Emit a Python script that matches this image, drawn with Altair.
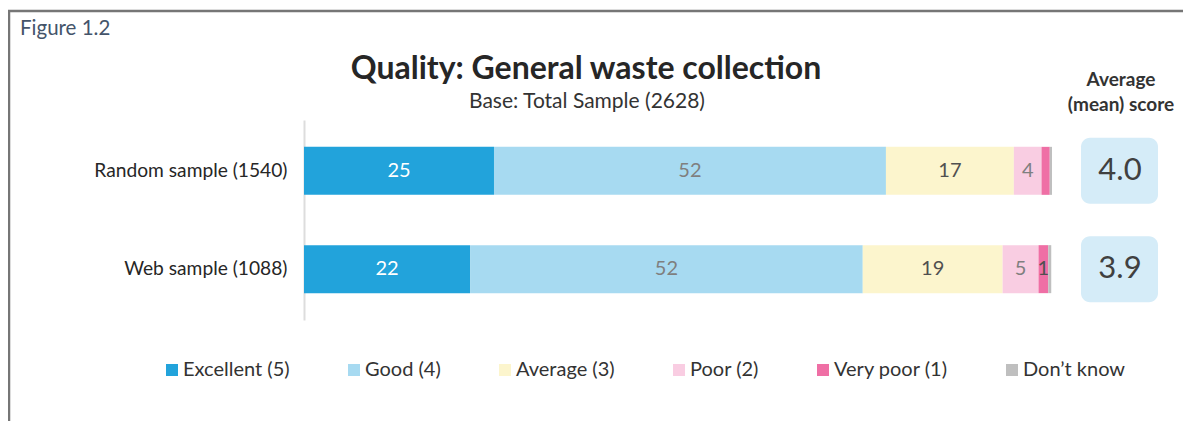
import altair as alt
import pandas as pd

samples = ["Random sample (1540)", "Web sample (1088)"]
categories = ["Excellent (5)", "Good (4)", "Average (3)", "Poor (2)", "Very poor (1)", "Don’t know"]
random_values = [25.4, 52.4, 17.1, 3.7, 1.1, 0.3]
web_values = [22.2, 52.5, 18.7, 4.8, 1.3, 0.4]
random_labels = ["25", "52", "17", "4", "", ""]
web_labels = ["22", "52", "19", "5", "1", ""]
mean_scores = ["4.0", "3.9"]
colors = ["#22A3DB", "#A7DAF1", "#FCF5CD", "#F9CDE2", "#EF6FA5", "#BFBFBF"]

FONT = "Lato"

rows = []
for s, vals, labs in [(samples[0], random_values, random_labels), (samples[1], web_values, web_labels)]:
    for i, (c, v, l) in enumerate(zip(categories, vals, labs)):
        rows.append({"sample": s, "category": c, "order": i, "value": v, "label": l})
df = pd.DataFrame(rows)
df_scores = pd.DataFrame({"sample": samples, "score": mean_scores})

yscale = alt.Scale(domain=samples, paddingInner=0.512, paddingOuter=0.273)
xscale = alt.Scale(domain=[0, 100], nice=False, zero=True)

base = alt.Chart(df).transform_stack(
    stack="value", groupby=["sample"], as_=["x0", "x1"],
    sort=[alt.SortField("order", order="ascending")]
).transform_calculate(mid="(datum.x0 + datum.x1) / 2")

bars = base.mark_bar(size=48).encode(
    x=alt.X("x0:Q", scale=xscale, axis=None),
    x2="x1:Q",
    y=alt.Y("sample:N", scale=yscale, title=None,
            axis=alt.Axis(labelFontSize=19.2, labelColor="#262626", labelFont=FONT,
                          labelPadding=17, ticks=False, domainColor="#DDDDDD",
                          domainWidth=2, labelLimit=400)),
    color=alt.Color("category:N", scale=alt.Scale(domain=categories, range=colors),
                    legend=alt.Legend(title=None, orient="none", direction="horizontal",
                                      legendX=-142, legendY=240, symbolType="square",
                                      symbolSize=144, symbolStrokeWidth=0,
                                      labelFontSize=20, labelFont=FONT,
                                      labelColor="#333333", columnPadding=54,
                                      labelOffset=1, padding=0, labelLimit=400)),
    order=alt.Order("order:Q"),
)

labels = base.transform_calculate(
    lc="datum.order == 0 ? '#FFFFFF' : (datum.order == 1 || datum.order == 3 ? '#7F7F7F' : '#505050')"
).mark_text(fontSize=20, font=FONT, baseline="middle", align="center").encode(
    x=alt.X("mid:Q", scale=xscale),
    y=alt.Y("sample:N", scale=yscale),
    text="label:N",
    color=alt.Color("lc:N", scale=None),
)

boxes = alt.Chart(df_scores).mark_bar(size=66, cornerRadius=9, color="#D5ECF8").encode(
    y=alt.Y("sample:N", scale=yscale),
    x=alt.value(777), x2=alt.value(854),
)
box_text = alt.Chart(df_scores).mark_text(fontSize=31, font=FONT, color="#404040",
                                          baseline="middle", align="center").encode(
    y=alt.Y("sample:N", scale=yscale),
    x=alt.value(816),
    text="score:N",
)

frame = alt.Chart(pd.DataFrame({"a": [0]})).mark_rect(
    fill=None, stroke="#767676", strokeWidth=2.5
).encode(x=alt.value(-295), x2=alt.value(950), y=alt.value(-109), y2=alt.value(400))

def txt(t, x, y, size, bold=False, color="#262626", align="center"):
    return alt.Chart(pd.DataFrame({"t": [t]})).mark_text(
        fontSize=size, font=FONT, fontWeight="bold" if bold else "normal",
        color=color, align=align, baseline="alphabetic"
    ).encode(x=alt.value(x), y=alt.value(y), text="t:N")

annots = [
    txt("Figure 1.2", -284, -85, 20.5, color="#44546A", align="left"),
    txt("Quality: General waste collection", 282, -41, 32, bold=True, color="#262626"),
    txt("Base: Total Sample (2628)", 283, -12, 21, color="#333333"),
    txt("Average", 817, -34, 19, bold=True, color="#333333"),
    txt("(mean) score", 817, -9, 19, bold=True, color="#333333"),
]

chart = alt.layer(frame, bars, labels, boxes, box_text, *annots).properties(
    width=748, height=200,
    padding={"left": 296, "top": 112, "right": 131, "bottom": 101},
    autosize="none",
).configure(background="white").configure_view(stroke=None, strokeWidth=0)

chart.save("out.html", embed_options={"renderer": "svg", "actions": False})
